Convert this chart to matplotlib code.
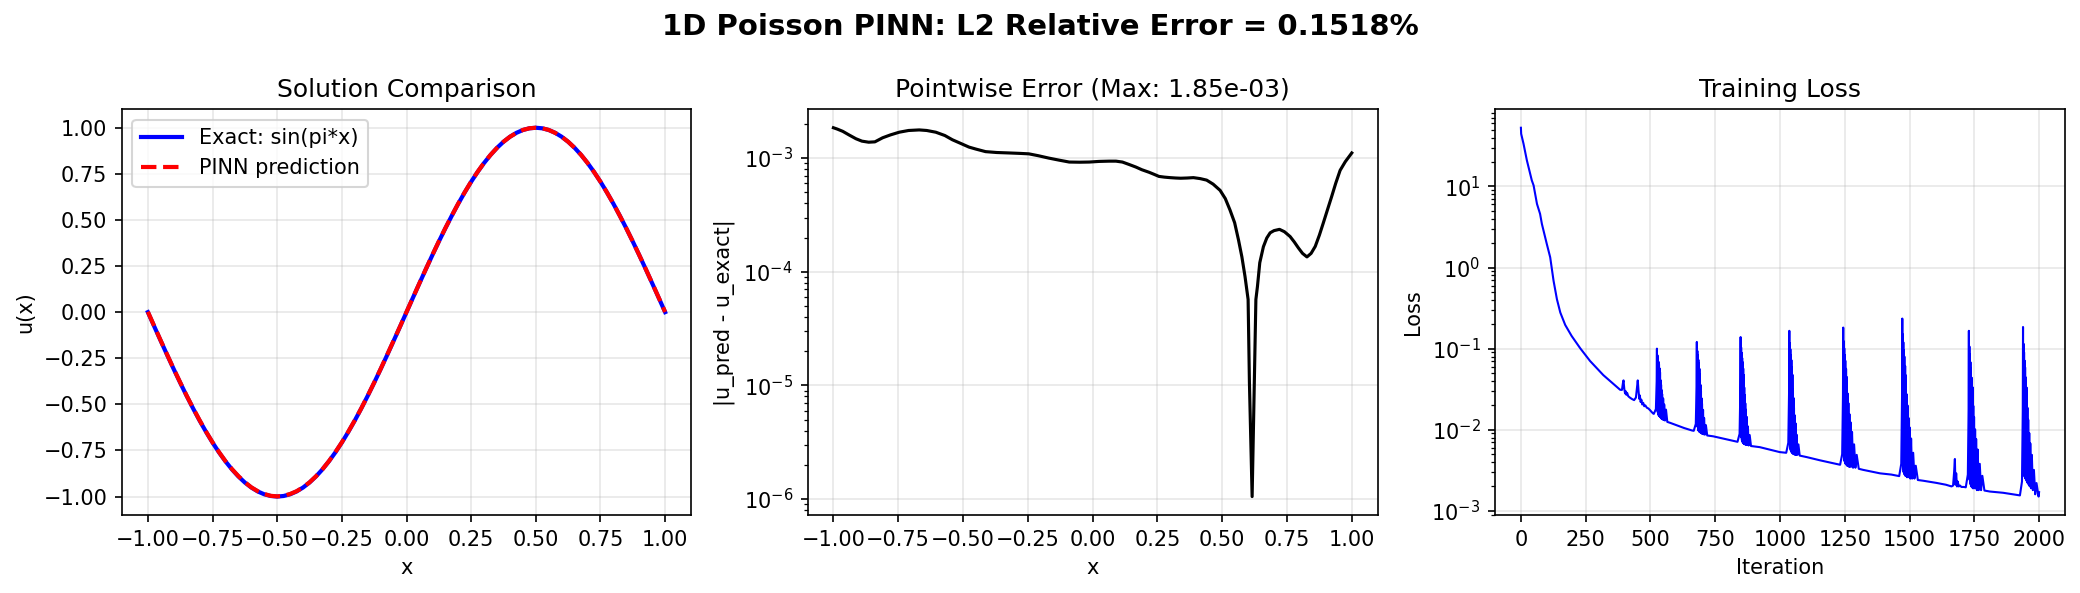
import numpy as np
import matplotlib
matplotlib.use("Agg")
import matplotlib.pyplot as plt

# --- solution comparison ---
sol_x = [-1.0, -0.975, -0.95, -0.925, -0.9, -0.875, -0.85, -0.825, -0.8, -0.775,
         -0.75, -0.725, -0.7, -0.675, -0.65, -0.625, -0.6, -0.575, -0.55, -0.525,
         -0.5, -0.475, -0.45, -0.425, -0.4, -0.375, -0.35, -0.325, -0.3, -0.275,
         -0.25, -0.225, -0.2, -0.175, -0.15, -0.125, -0.1, -0.075, -0.05, -0.025,
         0.0, 0.025, 0.05, 0.075, 0.1, 0.125, 0.15, 0.175, 0.2, 0.225,
         0.25, 0.275, 0.3, 0.325, 0.35, 0.375, 0.4, 0.425, 0.45, 0.475,
         0.5, 0.525, 0.55, 0.575, 0.6, 0.625, 0.65, 0.675, 0.7, 0.725,
         0.75, 0.775, 0.8, 0.825, 0.85, 0.875, 0.9, 0.925, 0.95, 0.975, 1.0]
u_exact = [0.0, -0.0785, -0.1564, -0.2334, -0.309, -0.3827, -0.454, -0.5225, -0.5878, -0.6494,
           -0.7071, -0.7604, -0.809, -0.8526, -0.891, -0.9239, -0.9511, -0.9724, -0.9877, -0.9969,
           -1.0, -0.9969, -0.9877, -0.9724, -0.9511, -0.9239, -0.891, -0.8526, -0.809, -0.7604,
           -0.7071, -0.6494, -0.5878, -0.5225, -0.454, -0.3827, -0.309, -0.2334, -0.1564, -0.0785,
           0.0, 0.0785, 0.1564, 0.2334, 0.309, 0.3827, 0.454, 0.5225, 0.5878, 0.6494,
           0.7071, 0.7604, 0.809, 0.8526, 0.891, 0.9239, 0.9511, 0.9724, 0.9877, 0.9969,
           1.0, 0.9969, 0.9877, 0.9724, 0.9511, 0.9239, 0.891, 0.8526, 0.809, 0.7604,
           0.7071, 0.6494, 0.5878, 0.5225, 0.454, 0.3827, 0.309, 0.2334, 0.1564, 0.0785, 0.0]
u_pinn = [0.002, -0.077, -0.155, -0.232, -0.308, -0.381, -0.453, -0.521, -0.586, -0.648,
          -0.706, -0.759, -0.808, -0.851, -0.889, -0.922, -0.950, -0.971, -0.986, -0.996,
          -0.999, -0.996, -0.986, -0.971, -0.950, -0.923, -0.890, -0.852, -0.808, -0.759,
          -0.706, -0.648, -0.587, -0.522, -0.453, -0.382, -0.308, -0.232, -0.155, -0.078,
          0.001, 0.079, 0.157, 0.234, 0.310, 0.384, 0.455, 0.523, 0.589, 0.650,
          0.708, 0.761, 0.810, 0.853, 0.891, 0.924, 0.951, 0.972, 0.988, 0.997,
          1.0, 0.997, 0.988, 0.972, 0.951, 0.924, 0.891, 0.853, 0.809, 0.760,
          0.707, 0.649, 0.588, 0.522, 0.454, 0.383, 0.309, 0.234, 0.157, 0.079, 0.001]

# --- pointwise error (values in units of 1e-3) ---
err_x = [-1.0, -0.985, -0.964, -0.94, -0.913, -0.89, -0.864, -0.84, -0.81, -0.78,
         -0.746, -0.71, -0.669, -0.64, -0.605, -0.57, -0.541, -0.51, -0.477, -0.45,
         -0.413, -0.37, -0.323, -0.28, -0.246, -0.21, -0.169, -0.13, -0.09, -0.05,
         -0.013, 0.025, 0.064, 0.09, 0.115, 0.14, 0.167, 0.19, 0.218, 0.237,
         0.256, 0.277, 0.299, 0.32, 0.34, 0.365, 0.389, 0.415, 0.44, 0.465,
         0.492, 0.512, 0.53, 0.548, 0.563, 0.576, 0.588, 0.600, 0.605, 0.6155,
         0.624, 0.630, 0.636, 0.645, 0.659, 0.672, 0.685, 0.70, 0.721, 0.74,
         0.762, 0.778, 0.794, 0.81, 0.827, 0.843, 0.859, 0.875, 0.89, 0.906,
         0.922, 0.938, 0.955, 0.975, 1.0]
err_milli = [1.85, 1.80, 1.72, 1.60, 1.48, 1.41, 1.38, 1.39, 1.51, 1.60,
             1.69, 1.75, 1.77, 1.75, 1.69, 1.58, 1.45, 1.35, 1.25, 1.20,
             1.14, 1.12, 1.11, 1.10, 1.09, 1.05, 1.00, 0.96, 0.923, 0.92,
             0.923, 0.935, 0.94, 0.94, 0.923, 0.88, 0.834, 0.79, 0.75, 0.72,
             0.69, 0.68, 0.673, 0.668, 0.665, 0.668, 0.673, 0.66, 0.64, 0.59,
             0.52, 0.44, 0.35, 0.27, 0.19, 0.135, 0.091, 0.057, 0.0107, 0.00105,
             0.0107, 0.057, 0.074, 0.12, 0.166, 0.198, 0.22, 0.23, 0.236, 0.225,
             0.204, 0.183, 0.162, 0.145, 0.135, 0.145, 0.167, 0.21, 0.268, 0.35,
             0.456, 0.60, 0.78, 0.93, 1.11]

# --- training loss: smooth parts and small bumps ---
loss_it_base = [0, 1, 10, 23, 42, 49, 62, 74, 81, 100,
                113, 126, 139, 152, 171, 196, 229, 267, 318, 383,
                390, 394, 396, 399, 402, 404, 407, 410, 414, 420,
                428, 437, 444, 448, 451, 454, 457, 459, 462, 465,
                468, 472, 476, 480, 486, 492, 498, 505, 511,
                575, 600, 630, 660,
                742, 794,
                922, 960, 999, 1020,
                1103, 1154, 1200,
                1321, 1386, 1430,
                1553, 1604, 1640, 1662, 1668, 1672, 1675, 1677, 1680, 1683,
                1686, 1690, 1695, 1700, 1710,
                1810, 1861, 1900, 1915,
                2000]
loss_base = [53, 44.6, 33.7, 21, 11.9, 10.3, 6.1, 4.59, 3.45, 1.95,
             1.34, 0.687, 0.407, 0.279, 0.196, 0.143, 0.101, 0.0704, 0.0472, 0.0311,
             0.031, 0.038, 0.0406, 0.032, 0.028, 0.030, 0.027, 0.0285, 0.026, 0.025,
             0.024, 0.0232, 0.025, 0.033, 0.0406, 0.030, 0.024, 0.0265, 0.022, 0.0235,
             0.0205, 0.0215, 0.0195, 0.020, 0.0187, 0.0183, 0.0175, 0.0165, 0.0158,
             0.0122, 0.0114, 0.0105, 0.0098,
             0.0083, 0.0076,
             0.0061, 0.0057, 0.0053, 0.00522,
             0.0046, 0.0042, 0.0039,
             0.0032, 0.0029, 0.0028,
             0.00235, 0.00221, 0.0021, 0.0020, 0.00205, 0.0030, 0.00436, 0.0021, 0.0029, 0.0020,
             0.0023, 0.0020, 0.00205, 0.00197, 0.00197,
             0.00173, 0.00167, 0.0016, 0.00157,
             0.0017]

# --- training loss: oscillating bursts (iterations relative to each peak) ---
burst_peak_it = [525, 679, 848, 1036, 1244, 1472, 1729, 1938]
offsets_pre = [-12, -4, -1]
offsets_short = list(range(0, 21)) + [22, 24, 26, 28, 31, 35, 40]
offsets_long = [0, 1, 2, 3, 4, 5, 6, 7, 8, 9, 11, 12, 14, 15, 17, 18, 20,
                22, 24, 26, 28, 31, 34, 38, 42, 47, 52, 60]
burst1 = [0.0157, 0.018, 0.0394,
          0.100, 0.019, 0.083, 0.0165, 0.0757, 0.0155, 0.0689, 0.015, 0.064, 0.0148,
          0.0572, 0.0145, 0.0511, 0.0143, 0.0409, 0.014, 0.0359, 0.0138, 0.0309, 0.0136,
          0.0276, 0.0134, 0.0243, 0.0132, 0.0205, 0.013, 0.0177, 0.0125]
burst2 = [0.0097, 0.0118, 0.034,
          0.121, 0.0125, 0.0938, 0.0108, 0.0827, 0.0100, 0.0728, 0.0097, 0.0658, 0.0095,
          0.0565, 0.0094, 0.0486, 0.0093, 0.0358, 0.0092, 0.030, 0.0091, 0.0245, 0.009,
          0.021, 0.0089, 0.0176, 0.0088, 0.014, 0.0087, 0.0114, 0.0085]
burst3 = [0.0071, 0.0089, 0.0313,
          0.139, 0.0095, 0.1035, 0.0080, 0.089, 0.0074, 0.0767, 0.0071, 0.0681, 0.0069,
          0.0569, 0.0068, 0.0475, 0.0067, 0.0332, 0.0067, 0.0269, 0.0066, 0.0212, 0.0066,
          0.0177, 0.0065, 0.0144, 0.0065, 0.011, 0.0064, 0.0086, 0.0063]
burst4 = [0.0052, 0.0069, 0.0294,
          0.166, 0.0072, 0.1175, 0.0060, 0.0986, 0.0056, 0.083, 0.0054, 0.0723, 0.0053,
          0.0588, 0.0052, 0.0477, 0.0051, 0.0315, 0.0051, 0.0247, 0.0050, 0.0187, 0.0050,
          0.0152, 0.0049, 0.012, 0.0049, 0.0087, 0.0049, 0.0066, 0.0048]
burst5 = [0.0037, 0.005, 0.0259,
          0.182, 0.0055, 0.123, 0.0045, 0.101, 0.0041, 0.0832, 0.0039, 0.0711, 0.0038,
          0.0564, 0.0037, 0.0447, 0.0036, 0.028, 0.0036, 0.0213, 0.0035, 0.0156, 0.0035,
          0.0124, 0.0035, 0.0094, 0.0034, 0.0066, 0.0034, 0.0049, 0.0033]
burst6 = [0.00268, 0.0038, 0.025,
          0.235, 0.0042, 0.150, 0.0033, 0.120, 0.0030, 0.0958, 0.0029, 0.080, 0.0028,
          0.0612, 0.0027, 0.0468, 0.0027, 0.0274, 0.0026, 0.020, 0.0026, 0.014, 0.0026,
          0.0107, 0.0025, 0.0078, 0.0025, 0.0052, 0.0025, 0.0036, 0.0024]
burst7 = [0.00195, 0.0028, 0.018,
          0.166, 0.0030, 0.1065, 0.0024, 0.0852, 0.0022, 0.0682, 0.0021, 0.0572, 0.0020,
          0.0438, 0.0020, 0.0335, 0.0019, 0.0197, 0.0019, 0.0144, 0.0019, 0.0101, 0.0019,
          0.0077, 0.0018, 0.0057, 0.0018, 0.0038, 0.0018, 0.0027, 0.00178]
burst8 = [0.00155, 0.0023, 0.017,
          0.185, 0.0040, 0.1147, 0.0030, 0.0902, 0.0027, 0.0711, 0.0026, 0.0588, 0.0025,
          0.0441, 0.0024, 0.0331, 0.0023, 0.0187, 0.0022, 0.0133, 0.0021, 0.0091, 0.0020,
          0.0068, 0.0019, 0.0049, 0.0018, 0.0032, 0.0016, 0.0022, 0.0015]
bursts = [burst1, burst2, burst3, burst4, burst5, burst6, burst7, burst8]

# assemble the loss history
it_parts = [np.array(loss_it_base, dtype=float)]
val_parts = [np.array(loss_base, dtype=float)]
for i, (peak, vals) in enumerate(zip(burst_peak_it, bursts)):
    offs = offsets_short if i < 4 else offsets_long
    it_parts.append(peak + np.array(offsets_pre + offs, dtype=float))
    val_parts.append(np.array(vals, dtype=float))
loss_it = np.concatenate(it_parts)
loss_val = np.concatenate(val_parts)
order = np.argsort(loss_it, kind="stable")
loss_it = loss_it[order]
loss_val = loss_val[order]

err_val = np.array(err_milli) * 1e-3

W, H, DPI = 2080, 593, 150
fig = plt.figure(figsize=(W / DPI, H / DPI), dpi=DPI)

def px_axes(left, right, top=109.3, bottom=515):
    return fig.add_axes([left / W, 1 - bottom / H, (right - left) / W, (bottom - top) / H])

ax1 = px_axes(122, 691)
ax2 = px_axes(807.5, 1377.7)
ax3 = px_axes(1495, 2065)

ax1.plot(sol_x, u_exact, "b-", linewidth=2, label="Exact: sin(pi*x)")
ax1.plot(sol_x, u_pinn, "r--", linewidth=2, label="PINN prediction")
ax1.set_xlabel("x")
ax1.set_ylabel("u(x)")
ax1.set_title("Solution Comparison")
ax1.legend(loc="upper left")
ax1.grid(True, alpha=0.3)

ax2.semilogy(err_x, err_val, "k-", linewidth=1.5)
ax2.set_xlabel("x")
ax2.set_ylabel("|u_pred - u_exact|")
ax2.set_title(f"Pointwise Error (Max: {err_val.max():.2e})")
ax2.grid(True, alpha=0.3)

ax3.semilogy(loss_it, loss_val, "b-", linewidth=1)
ax3.set_xlabel("Iteration")
ax3.set_ylabel("Loss")
ax3.set_title("Training Loss")
ax3.grid(True, alpha=0.3)

fig.suptitle("1D Poisson PINN: L2 Relative Error = 0.1518%", fontsize=14,
             fontweight="bold", y=1 - 27 / H, va="center")

fig.savefig("out.png", dpi=DPI)
